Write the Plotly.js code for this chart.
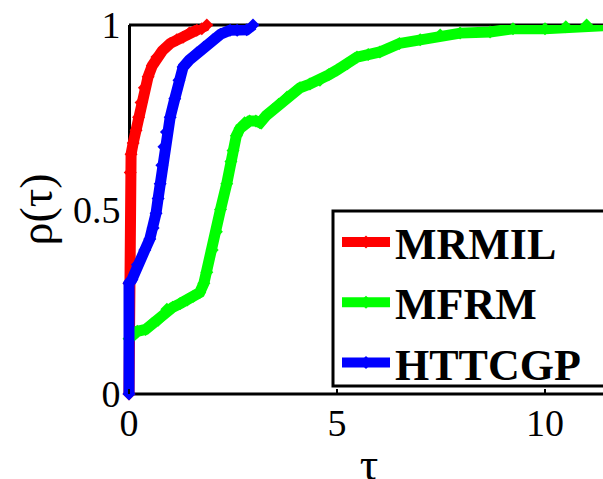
<!DOCTYPE html>
<html>
<head>
<meta charset="utf-8">
<script src="https://cdn.plot.ly/plotly-3.0.1.min.js"></script>
<style>
html, body { margin: 0; padding: 0; overflow: hidden; background: #fff; }
#chart { width: 615px; height: 490px; }
</style>
</head>
<body>
<div id="chart"></div>
<script>
// Series names
const seriesNames = ["MRMIL", "MFRM", "HTTCGP"];

// MRMIL (red)
const mrmilX = [0, 0, 0.03, 0.05, 0.1, 0.17, 0.23, 0.29, 0.37, 0.46, 0.56, 0.67, 0.8, 0.99, 1.15, 1.3, 1.45, 1.63, 1.75, 1.87];
const mrmilY = [0, 0.3, 0.6, 0.65, 0.68, 0.715, 0.75, 0.79, 0.83, 0.86, 0.89, 0.913, 0.93, 0.95, 0.96, 0.967, 0.978, 0.986, 0.99, 1.0];

// MFRM (green)
const mfrmX = [0, 0.2, 0.4, 0.55, 0.7, 0.91, 1.05, 1.23, 1.4, 1.55, 1.7, 1.8, 1.87, 2.0, 2.1, 2.2, 2.35, 2.45, 2.5, 2.58, 2.67, 2.78, 2.9, 3.05, 3.15, 3.3, 3.46, 3.6, 3.8, 4.0, 4.11, 4.35, 4.59, 4.8, 5.0, 5.25, 5.48, 5.75, 6.03, 6.5, 7.0, 7.48, 7.96, 8.68, 9.23, 10.0, 10.5, 11.0, 11.7];
const mfrmY = [0.15, 0.17, 0.175, 0.19, 0.2, 0.23, 0.235, 0.245, 0.255, 0.265, 0.275, 0.3, 0.33, 0.39, 0.44, 0.5, 0.57, 0.63, 0.66, 0.7, 0.72, 0.735, 0.74, 0.74, 0.735, 0.755, 0.77, 0.785, 0.805, 0.82, 0.83, 0.84, 0.85, 0.865, 0.878, 0.895, 0.913, 0.92, 0.927, 0.95, 0.96, 0.973, 0.978, 0.981, 0.99, 0.99, 0.995, 1.0, 1.0];

// HTTCGP (blue)
const httcgpX = [0, 0, 0.07, 0.2, 0.38, 0.5, 0.58, 0.65, 0.7, 0.75, 0.79, 0.84, 0.9, 0.99, 1.1, 1.2, 1.3, 1.45, 1.63, 1.8, 2.02, 2.2, 2.43, 2.6, 2.83, 2.98];
const httcgpY = [0, 0.3, 0.31, 0.35, 0.39, 0.42, 0.45, 0.49, 0.53, 0.57, 0.62, 0.67, 0.71, 0.75, 0.8, 0.85, 0.886, 0.905, 0.924, 0.94, 0.96, 0.975, 0.986, 0.986, 0.987, 1.0];

// Axis ticks
const xTicks = [0, 5, 10];
const xTickLabels = ["0", "5", "10"];
const yTicks = [0, 0.5, 1];
const yTickLabels = ["0", "0.5", "1"];

const serif = "Liberation Serif";

function mk(name, x, y, color) {
  return {
    type: "scatter", mode: "lines+markers", name: name, x: x, y: y,
    line: { color: color, width: 11 },
    marker: { color: color, symbol: "diamond", size: 10 },
    cliponaxis: false
  };
}

const data = [
  mk(seriesNames[0], mrmilX, mrmilY, "#ff0000"),
  mk(seriesNames[1], mfrmX, mfrmY, "#00ff00"),
  mk(seriesNames[2], httcgpX, httcgpY, "#0000ff")
];

// plot area starts slightly left of x=0 so the thick lines at x=0 are not clipped
const plotLeft = 123, plotW = 615 - plotLeft, pxPerUnit = 41.6;
const xMin = -(129 - plotLeft) / pxPerUnit;
const xMax = xMin + plotW / pxPerUnit;
const zeroPaper = (129 - plotLeft) / plotW;
const legLeft = (333 - plotLeft) / plotW;

const layout = {
  width: 615, height: 490,
  margin: { l: plotLeft, r: 0, t: 25, b: 96 },
  paper_bgcolor: "#fff", plot_bgcolor: "rgba(0,0,0,0)",
  showlegend: true,
  legend: {
    x: (337 - plotLeft) / plotW, xanchor: "left", y: (394 - 207) / 369, yanchor: "top",
    borderwidth: 0, bgcolor: "rgba(0,0,0,0)",
    font: { family: serif, size: 44, color: "#000", weight: "bold" },
    itemwidth: 48, tracegroupgap: 0
  },
  shapes: [
    // bottom and top box lines
    { type: "line", xref: "paper", yref: "paper", x0: zeroPaper, x1: 1.05, y0: 0, y1: 0, line: { color: "#000", width: 3 }, layer: "below" },
    { type: "line", xref: "paper", yref: "paper", x0: zeroPaper, x1: 1.05, y0: 1, y1: 1, line: { color: "#000", width: 3 }, layer: "below" },
    // legend box (right side runs past the edge)
    { type: "rect", xref: "paper", yref: "paper", x0: legLeft, x1: 1.2, y0: (394 - 386) / 369, y1: (394 - 211) / 369, fillcolor: "#fff", line: { color: "#000", width: 3 }, layer: "above" }
  ],
  xaxis: {
    range: [xMin, xMax], tickvals: xTicks, ticktext: xTickLabels,
    showgrid: false, zeroline: false, showline: false,
    ticks: "inside", ticklen: 5, tickwidth: 2, tickcolor: "#000",
    ticklabelstandoff: 3,
    tickfont: { family: serif, size: 38, color: "#000" },
    title: { text: "τ", font: { family: serif, size: 46, color: "#000" }, standoff: 10 }
  },
  yaxis: {
    range: [0, 1], tickvals: yTicks, ticktext: yTickLabels,
    anchor: "free", position: zeroPaper, layer: "below traces",
    showgrid: false, zeroline: false, showline: true,
    linecolor: "#000", linewidth: 3, ticks: "inside", ticklen: 5, tickwidth: 2, tickcolor: "#000",
    tickfont: { family: serif, size: 38, color: "#000" },
    title: { text: "ρ(τ)", font: { family: serif, size: 46, color: "#000" }, standoff: 4 }
  }
};

Plotly.newPlot("chart", data, layout, { displayModeBar: false, staticPlot: true });
</script>
</body>
</html>
